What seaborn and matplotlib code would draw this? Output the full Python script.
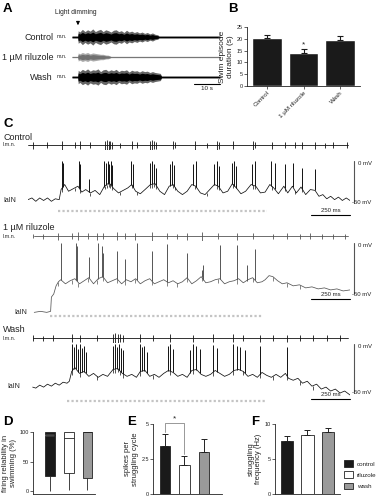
import numpy as np
import pandas as pd
import matplotlib
matplotlib.use("Agg")
import matplotlib.pyplot as plt
from matplotlib.patches import Patch
import seaborn as sns

# ---------------- data ----------------
# A: motor nerve (m.n.) burst envelope, time in s, relative amplitude
light_on = 2.3
a_ctrl_t = [0, 2.2, 2.4, 3, 4, 5, 6, 7, 8, 9, 10, 11, 12, 13, 14, 15, 16, 17, 18, 19, 20, 21, 22, 23,
            24, 25, 26, 27, 28, 29, 30, 31, 32, 33, 33.5, 57]
a_ctrl_amp = [0.12, 0.12, 0.7, 0.55, 0.85, 0.6, 0.8, 0.65, 0.9, 0.6, 0.75, 0.85, 0.6, 0.8, 0.7, 0.55,
              0.75, 0.8, 0.6, 0.7, 0.5, 0.75, 0.55, 0.65, 0.5, 0.6, 0.45, 0.55, 0.4, 0.5, 0.35, 0.45,
              0.3, 0.25, 0.12, 0.12]
a_ril_t = [0, 2.2, 2.4, 3, 4, 5, 6, 7, 8, 9, 10, 11, 12, 13, 14, 15, 57]
a_ril_amp = [0.08, 0.08, 0.45, 0.35, 0.5, 0.4, 0.5, 0.35, 0.45, 0.4, 0.35, 0.3, 0.3, 0.22, 0.2, 0.08, 0.08]
a_wash_t = [0, 2.2, 2.4, 3, 4, 5, 6, 7, 8, 9, 10, 11, 12, 13, 14, 15, 16, 17, 18, 19, 20, 21, 22, 23,
            24, 25, 26, 27, 28, 29, 30, 31, 32, 33, 34, 34.5, 57]
a_wash_amp = [0.12, 0.12, 0.75, 0.6, 0.85, 0.7, 0.9, 0.65, 0.8, 0.75, 0.9, 0.6, 0.8, 0.85, 0.65, 0.8,
              0.7, 0.85, 0.6, 0.75, 0.7, 0.8, 0.55, 0.75, 0.65, 0.7, 0.55, 0.7, 0.6, 0.65, 0.5, 0.6,
              0.5, 0.45, 0.4, 0.12, 0.12]

# B: swim episode duration (s)
b_groups = ["Control", "1 µM riluzole", "Wash"]
b_mean = [20.5, 13.8, 19.7]
b_sem = [1.1, 2.0, 1.4]

# C: l.m.n. unit times (ms) and relative amplitudes
ctrl_lmn_t = [32, 122, 218, 301, 333, 397, 494, 505, 516, 527, 538, 590, 667, 699, 782, 795, 808, 821,
              929, 940, 1071, 1147, 1212, 1224, 1314, 1442, 1455, 1564, 1647, 1712, 1756, 1840, 1904,
              1955, 2045]
ctrl_lmn_a = [0.7, 0.6, 0.9, 0.6, 0.8, 0.6, 0.9, 1.0, 0.9, 0.8, 0.7, 0.5, 0.8, 0.6, 0.9, 1.0, 0.8, 0.7,
              0.8, 0.6, 0.9, 0.5, 0.9, 0.7, 0.8, 0.9, 0.6, 0.7, 0.6, 0.6, 0.7, 0.7, 0.5, 0.6, 0.6]
ril_lmn_t = [32, 96, 194, 280, 323, 387, 440, 483, 568, 622, 686, 793, 889, 953, 1017, 1113, 1220,
             1338, 1444, 1573, 1658, 1744, 1808, 1883, 1957, 2032]
ril_lmn_a = [0.4, 0.5, 0.7, 0.6, 0.8, 0.6, 0.7, 0.6, 0.8, 0.6, 0.7, 0.9, 0.6, 0.5, 0.7, 0.9, 0.6,
             0.7, 0.6, 0.5, 0.6, 0.5, 0.6, 0.5, 0.5, 0.5]
wash_lmn_t = [34, 98, 162, 280, 333, 440, 545, 560, 575, 590, 609, 718, 801, 910, 1058, 1186, 1314,
              1378, 1487, 1570, 1660, 1744, 1827, 1917, 2000]
wash_lmn_a = [0.6, 0.5, 0.6, 0.8, 0.7, 0.6, 0.9, 1.0, 0.9, 0.8, 0.7, 0.8, 0.6, 0.8, 0.7, 0.8, 0.8,
              0.6, 0.7, 0.6, 0.7, 0.6, 0.6, 0.6, 0.6]

# C: IaIN membrane potential (ms, mV)
ctrl_vm_t = [0, 25, 50, 75, 100, 125, 150, 175, 200, 212, 235, 260, 290, 320, 345, 370, 400, 430, 460,
             490, 520, 550, 580, 610, 640, 665, 690, 720, 750, 785, 815, 845, 875, 905, 930, 960, 990,
             1020, 1050, 1075, 1105, 1135, 1165, 1195, 1220, 1250, 1280, 1310, 1335, 1365, 1395, 1430,
             1460, 1490, 1520, 1550, 1575, 1605, 1640, 1665, 1695, 1720, 1750, 1780, 1810, 1840, 1865,
             1890, 1915, 1940, 1965, 1990, 2015, 2040, 2064]
ctrl_vm = [-46, -44, -48, -44, -47, -44, -48, -45, -46, -34, -28, -36, -33, -30, -37, -34, -38, -35, -40,
           -30, -26, -33, -38, -35, -32, -28, -36, -39, -34, -28, -27, -36, -40, -30, -28, -36, -40,
           -36, -28, -30, -38, -40, -34, -28, -30, -38, -36, -27, -32, -39, -36, -28,
           -30, -38, -37, -28, -32, -39, -30, -38, -30, -38, -31, -40, -34, -35, -42,
           -40, -45, -42, -46, -43, -47, -44, -47]
ril_vm_t = [40, 80, 120, 145, 150, 165, 180, 195, 210, 240, 270, 300, 330, 360, 390, 420, 450, 480, 510,
            540, 570, 600, 630, 660, 690, 720, 750, 780, 810, 840, 870, 900, 930, 960, 990, 1020, 1050,
            1080, 1110, 1140, 1170, 1200, 1230, 1260, 1290, 1320, 1350, 1380, 1410, 1440, 1470, 1500,
            1520, 1545, 1570, 1600, 1630, 1660, 1700, 1740, 1780, 1820, 1860, 1900, 1940, 1980, 2020, 2064]
ril_vm = [-68, -67, -68, -67, -53, -50, -42, -38, -36, -40, -37, -35, -40, -37, -34, -40, -35, -33, -39,
          -37, -35, -40, -36, -38, -35, -40, -37, -35, -40, -38, -36, -39, -37, -40, -38, -34, -40,
          -37, -33, -39, -38, -36, -35, -40, -38, -37, -35, -39, -36, -34, -39, -38,
          -36, -32, -33, -37, -40, -39, -42, -41, -44, -43, -45, -44, -46, -45, -47, -46]
wash_vm_t = [30, 50, 75, 100, 125, 150, 175, 200, 225, 250, 265, 280, 300, 330, 360, 390, 420, 450, 480,
             510, 545, 575, 605, 635, 665, 695, 720, 750, 780, 810, 840, 870, 900, 930, 960, 990, 1020,
             1050, 1080, 1110, 1140, 1170, 1200, 1230, 1260, 1290, 1320, 1350, 1380, 1410, 1440, 1470,
             1500, 1530, 1560, 1590, 1620, 1650, 1670, 1700, 1730, 1760, 1790, 1820, 1850, 1880, 1910,
             1940, 1970, 2000, 2030, 2064]
wash_vm = [-44, -45, -42, -44, -41, -43, -40, -42, -39, -40, -38, -28, -24, -30, -28, -33, -30, -34, -31,
           -33, -26, -25, -30, -33, -31, -34, -28, -27, -33, -31, -34, -30, -27, -29, -33, -31, -34,
           -27, -26, -31, -33, -31, -27, -30, -33, -31, -27, -26, -28, -33, -31, -34,
           -29, -32, -34, -31, -34, -30, -35, -37, -35, -40, -38, -43, -41, -46, -44,
           -48, -46, -50, -48, -52]

# C: IaIN spike times (ms) and peak (mV)
ctrl_spk_t = [215, 224, 327, 333, 391, 487, 500, 510, 519, 529, 538, 660, 673, 782, 795, 808, 821, 910,
              923, 936, 1058, 1077, 1192, 1212, 1224, 1308, 1321, 1333, 1436, 1455, 1558, 1583, 1647,
              1699, 1756, 1840]
ctrl_spk_v = [0, -2, 0, -3, -22, 0, -2, 0, -3, 0, -5, 0, -3, -2, 0, -4, -8, -3, 0, -5, -4, 0, -3, 0, -6,
              -2, 0, -6, -3, 0, 0, -2, -4, -2, -8, -10]
ril_spk_t = [212, 308, 316, 393, 447, 472, 483, 568, 622, 697, 793, 889, 1017, 1113, 1124, 1231, 1338,
             1402, 1455]
ril_spk_v = [0, 0, -3, -14, 0, -3, -10, -8, -16, 0, -8, -1, -10, -26, -22, -2, -2, -22, -6]
wash_spk_t = [282, 295, 308, 321, 333, 346, 359, 372, 545, 557, 570, 583, 596, 610, 718, 731, 744, 763,
              897, 910, 929, 1038, 1058, 1077, 1103, 1186, 1212, 1314, 1340, 1359, 1391, 1487, 1660]
wash_spk_v = [0, -3, 0, -5, 0, -4, -2, -8, -2, 0, -3, 0, -4, -6, 0, -3, -2, -8, -2, 0, -5, -6, 0, -2,
              -5, -1, -4, 0, -2, -3, -6, -2, -3]

# C: light stimulus (ms)
ctrl_stim = [192, 1532]
ril_stim = [141, 1500]
wash_stim = [250, 1532]

# D: firing reliability in swimming (%)
d_ctrl = [0, 25, 95, 100, 100]
d_ril = [2, 31, 89, 100, 100]
d_wash = [2, 22, 100, 100, 100]

# E, F
groups = ["control", "riluzole", "wash"]
e_mean = [3.45, 2.05, 3.0]
e_sem = [0.85, 0.65, 0.9]
f_mean = [7.6, 8.5, 8.9]
f_sem = [0.7, 0.6, 0.5]

# ---------------- style ----------------
sns.set_theme(style="ticks")
plt.rcParams["font.family"] = ["Liberation Sans", "DejaVu Sans"]
plt.rcParams.update({
    "axes.linewidth": 0.6,
    "xtick.major.width": 0.5, "ytick.major.width": 0.5,
    "xtick.major.size": 2, "ytick.major.size": 2,
    "xtick.major.pad": 1, "ytick.major.pad": 1,
    "xtick.labelsize": 4, "ytick.labelsize": 4,
    "text.color": "#222", "axes.labelcolor": "#222",
    "xtick.color": "#222", "ytick.color": "#222",
    "axes.edgecolor": "#222",
})

W, H = 381, 500
fig = plt.figure(figsize=(W / 100, H / 100), dpi=100)
BLACK, WHITE, GREY = "#1a1a1a", "#ffffff", "#9a9a9a"


def px_axes(x0, y0, x1, y1):
    return fig.add_axes([x0 / W, 1 - y1 / H, (x1 - x0) / W, (y1 - y0) / H])


def fig_text(x, y, s, **kw):
    fig.text(x / W, 1 - y / H, s, **kw)


for letter, (x, y) in zip("ABCDEF", [(3, 3), (228, 3), (3, 118), (3, 416), (127, 416), (251, 416)]):
    fig_text(x, y, letter, fontsize=9.5, fontweight="bold", va="top", color="black")

# ---------------- A ----------------
a_rows = [("Control", a_ctrl_t, a_ctrl_amp, "#000000", "#666666"),
          ("1 µM riluzole", a_ril_t, a_ril_amp, "#707070", "#aaaaaa"),
          ("Wash", a_wash_t, a_wash_amp, "#000000", "#666666")]
for i, ((name, t, amp, inner, outer), yc) in enumerate(zip(a_rows, [37, 57, 77])):
    ax = px_axes(72, yc - 9, 220, yc + 9)
    ax.set_xlim(0, a_ctrl_t[-1])
    ax.set_ylim(-1, 1)
    ax.axis("off")
    amp = np.asarray(amp)
    ax.fill_between(t, -amp, amp, color=outer, lw=0)
    ax.fill_between(t, -amp * 0.6, amp * 0.6, color=inner, lw=0)
    fig_text(53, yc, name, ha="right", va="center", fontsize=6.5)
    fig_text(57, yc, "m.n.", ha="left", va="center", fontsize=3.8)
    if i == 0:
        ax.annotate("", xy=(light_on, 1.0), xytext=(light_on, 2.0), annotation_clip=False,
                    arrowprops=dict(arrowstyle="-|>", color="black", lw=0.7, mutation_scale=5))
        ax.text(light_on - 1.0, 2.3, "Light dimming", fontsize=4.8, va="bottom", ha="center")
    if i == 2:
        t_end = a_ctrl_t[-1]
        ax.plot([t_end - 10, t_end], [-0.75, -0.75], color="black", lw=0.8, clip_on=False)
        ax.text(t_end - 5, -1.0, "10 s", ha="center", va="top", fontsize=4.5)

# ---------------- B ----------------
ax = px_axes(247, 27, 360, 86)
sns.barplot(x=b_groups, y=b_mean, color=BLACK, width=0.8, errorbar=None, ax=ax, saturation=1)
ax.errorbar(range(3), b_mean, yerr=[np.zeros(3), b_sem], fmt="none", ecolor=BLACK,
            elinewidth=0.8, capsize=2.5, capthick=0.8)
ax.text(1, b_mean[1] + b_sem[1] + 0.3, "*", ha="center", va="bottom", fontsize=6)
ax.set_ylim(0, 25)
ax.set_yticks(range(0, 26, 5))
ax.set_xlim(-0.55, 2.55)
ax.set_xticks(range(3))
ax.set_xticklabels(b_groups, rotation=45, ha="right", rotation_mode="anchor", fontsize=4.5)
ax.set_ylabel("Swim episode\nduration (s)", fontsize=6, labelpad=2, linespacing=1.1)
sns.despine(ax=ax)

# ---------------- C ----------------
c_rows = [
    ("Control", ctrl_lmn_t, ctrl_lmn_a, ctrl_vm_t, ctrl_vm, ctrl_spk_t, ctrl_spk_v, ctrl_stim, "#111111"),
    ("1 µM riluzole", ril_lmn_t, ril_lmn_a, ril_vm_t, ril_vm, ril_spk_t, ril_spk_v, ril_stim, "#555555"),
    ("Wash", wash_lmn_t, wash_lmn_a, wash_vm_t, wash_vm, wash_spk_t, wash_spk_v, wash_stim, "#111111"),
]
c_layout = [
    dict(title_y=137, lmn_y=145, mv0=161, mv50=203, iain_x=3, iain_y=200, stim_mv=-59.5, bar_mv=-64),
    dict(title_y=227, lmn_y=236, mv0=243, mv50=294, iain_x=14, iain_y=312, stim_mv=-71.6, bar_mv=-54.5),
    dict(title_y=330, lmn_y=338, mv0=344, mv50=393, iain_x=7, iain_y=387, stim_mv=-58, bar_mv=-56),
]
T_END = 2064
X0, X1 = 28, 350
for (name, lt, la, vt, vm, st, sv, stim, c), lay in zip(c_rows, c_layout):
    fig_text(3, lay["title_y"], name, fontsize=6.5, va="center")
    fig_text(3, lay["lmn_y"], "l.m.n.", fontsize=3.8, va="center")
    fig_text(lay["iain_x"], lay["iain_y"], "IaIN", fontsize=5, va="center")

    ax = px_axes(X0, lay["lmn_y"] - 5, X1, lay["lmn_y"] + 5)
    ax.set_xlim(0, T_END)
    ax.set_ylim(-1, 1)
    ax.axis("off")
    ax.plot([vt[0], T_END - 15], [0, 0], color=c, lw=0.6)
    la = np.asarray(la)
    ax.vlines(lt, -la, la, color=c, lw=0.6)

    k = (lay["mv50"] - lay["mv0"]) / 50
    lo, hi = -75, 8
    ax = px_axes(X0, lay["mv0"] - hi * k, X1, lay["mv0"] - lo * k)
    ax.set_xlim(0, T_END)
    ax.set_ylim(lo, hi)
    ax.axis("off")
    ax.plot(vt, vm, color=c, lw=0.55)
    base = np.interp(st, vt, vm)
    ax.vlines(st, base, sv, color=c, lw=0.7)
    # small downward coupling artefacts at the l.m.n. spikes during the light period
    lt_on = [x for x in lt if stim[0] < x < stim[1] + 300]
    lt_base = np.interp(lt_on, vt, vm)
    ax.vlines(lt_on, lt_base, lt_base - 4, color=c, lw=0.5)
    ax.plot(stim, [lay["stim_mv"]] * 2, color="#c4c4c4", lw=1.6, dashes=(1, 1))
    ax.plot([2090, 2090], [0, -50], color="#555555", lw=0.8, clip_on=False)
    ax.text(2115, 0, "0 mV", va="top", fontsize=4.3)
    ax.text(2080, -50, "-50 mV", va="center", fontsize=4.3)
    ax.plot([T_END - 250, T_END], [lay["bar_mv"]] * 2, color="black", lw=0.8, clip_on=False)
    ax.text(T_END - 125, lay["bar_mv"] + 1.5 / k, "250 ms", ha="center", va="bottom", fontsize=4.3)

# ---------------- D ----------------
palette = [BLACK, WHITE, GREY]
ax = px_axes(33, 432, 95, 494)
df_d = pd.DataFrame({"group": np.repeat(groups, 5), "value": d_ctrl + d_ril + d_wash})
sns.boxplot(data=df_d, x="group", y="value", hue="group", palette=palette, width=0.52,
            linewidth=0.6, linecolor="#222", showcaps=False, legend=False, saturation=1, ax=ax)
ax.hlines(np.median(d_ctrl), -0.24, 0.24, color="white", lw=0.9)
ax.set_ylim(-5, 100)
ax.set_yticks([0, 50, 100])
ax.set_xlim(-0.9, 2.4)
ax.set_xticks([])
ax.set_xlabel("")
ax.set_ylabel("firing reliability in\nswimming (%)", fontsize=5.5, labelpad=2, linespacing=1.1)
sns.despine(ax=ax)

# ---------------- E ----------------
ax = px_axes(153, 424, 222, 494)
sns.barplot(x=groups, y=e_mean, hue=groups, palette=palette, width=0.53, edgecolor="#222",
            linewidth=0.6, errorbar=None, legend=False, saturation=1, ax=ax)
ax.errorbar(range(3), e_mean, yerr=[np.zeros(3), e_sem], fmt="none", ecolor="#222",
            elinewidth=0.7, capsize=2, capthick=0.7)
top = e_mean[0] + e_sem[0] + 0.75
ax.plot([0, 0, 1, 1], [e_mean[0] + e_sem[0] + 0.1, top, top, e_mean[1] + e_sem[1] + 0.15],
        color="#888888", lw=0.6, clip_on=False)
ax.text(0.5, top + 0.05, "*", ha="center", va="bottom", fontsize=6, clip_on=False)
ax.set_ylim(0, 5)
ax.set_yticks([0, 2.5, 5])
ax.set_yticklabels(["0", "2.5", "5"])
ax.set_xlim(-0.63, 2.95)
ax.set_xticks([])
ax.set_ylabel("spikes per\nstruggling cycle", fontsize=5.5, labelpad=2, linespacing=1.1)
sns.despine(ax=ax)

# ---------------- F ----------------
ax = px_axes(275, 424, 340, 494)
sns.barplot(x=groups, y=f_mean, hue=groups, palette=palette, width=0.6, edgecolor="#222",
            linewidth=0.6, errorbar=None, legend=False, saturation=1, ax=ax)
ax.errorbar(range(3), f_mean, yerr=[np.zeros(3), f_sem], fmt="none", ecolor="#222",
            elinewidth=0.7, capsize=2, capthick=0.7)
ax.set_ylim(0, 10)
ax.set_yticks([0, 5, 10])
ax.set_xlim(-0.58, 2.59)
ax.set_xticks([])
ax.set_ylabel("struggling\nfrequency (Hz)", fontsize=5.5, labelpad=2, linespacing=1.1)
sns.despine(ax=ax)

handles = [Patch(facecolor=col, edgecolor="#222", linewidth=0.6) for col in palette]
fig.legend(handles, groups, loc="upper left", bbox_to_anchor=(341 / W, 1 - 457 / H),
           frameon=False, fontsize=4.5, handlelength=1.4, handleheight=1.3,
           labelspacing=0.7, handletextpad=0.6, borderpad=0)

fig.savefig("out.png", dpi=100)
